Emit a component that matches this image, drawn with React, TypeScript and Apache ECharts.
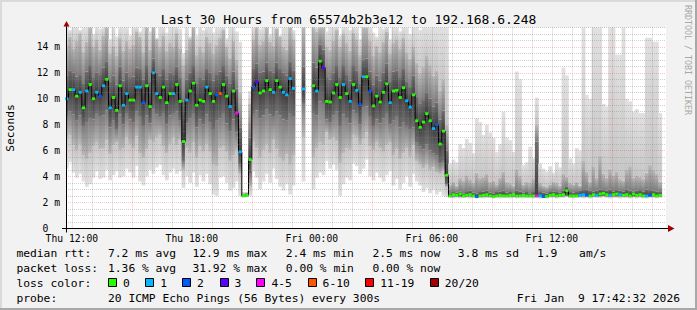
import React, { useEffect, useRef } from "react";
import * as echarts from "echarts";

const FONT = '"DejaVu Sans Mono", "Liberation Mono", monospace';

// x axis: hours counted from Thu 00:00
const START_HOUR = 11 + 42 / 60 + 32 / 3600; // Thu 11:42:32
const END_HOUR = START_HOUR + 30; // Fri 17:42:32
const FIRST_POINT_HOUR = 11.75;
const STEP_HOURS = 1 / 6; // one value every 10 minutes

const tickHours = [12, 18, 24, 30, 36];
const tickLabels = ["Thu 12:00", "Thu 18:00", "Fri 00:00", "Fri 06:00", "Fri 12:00"];

// median round trip time (ms)
const medianMs = [
  10.0, 10.7, 10.7, 10.2, 10.5, 9.3, 10.6, 11.1, 10.0, 10.5,
  10.2, 11.0, 11.5, 9.3, 10.1, 9.1, 11.0, 9.5, 10.4, 9.9,
  9.9, 10.9, 10.9, 9.7, 11.0, 9.4, 12.0, 10.4, 10.1, 10.9,
  9.7, 10.4, 10.4, 11.1, 9.8, 6.7, 9.9, 10.6, 11.2, 9.5,
  9.9, 9.8, 10.9, 10.4, 9.8, 10.3, 10.4, 11.1, 10.2, 9.4,
  10.6, 8.9, 5.9, 2.5, 2.55, 5.3, 10.9, 11.3, 10.45, 10.6,
  11.4, 10.7, 10.5, 11.4, 10.9, 10.5, 10.3, 11.55, 10.8, null,
  null, 10.75, null, null, 11.0, 10.6, 12.9, 12.4, 9.8, 9.75,
  10.45, 11.1, 10.1, 11.1, 10.4, 9.8, 11.1, 10.65, 9.55, 11.7,
  11.7, 10.6, 9.45, 10.2, 9.75, 10.5, 11.15, 9.7, 10.6, 10.65,
  10.1, 10.85, 9.85, 9.35, 10.3, 8.3, 7.8, 8.2, 8.85, 8.3,
  7.7, 8.0, 6.5, 7.5, 4.1, 2.5, 2.6, 2.55, 2.65, 2.5,
  2.55, 2.6, 2.5, 2.45, 2.5, 2.55, 2.6, 2.5, 2.45, 2.5,
  2.55, 2.5, 2.5, 2.55, 2.6, 2.5, 2.5, 2.55, 2.5, 2.5,
  2.5, 2.5, 2.5, 2.45, 2.45, 2.55, 2.6, 2.5, 2.55, 2.6,
  2.9, 2.5, 2.5, 2.5, 2.55, 2.6, 2.55, 2.5, 2.6, 2.55,
  2.65, 2.7, 2.6, 2.55, 2.6, 2.65, 2.6, 2.55, 2.6, 2.5,
  2.65, 2.55, 2.6, 2.5, 2.5, 2.55, 2.6, 2.5, 2.55,
];

// lost pings out of 20
const lossCount = [
  1, 0, 1, 0, 1, 0, 1, 0, 0, 1,
  2, 1, 0, 1, 0, 0, 0, 1, 1, 0,
  0, 1, 1, 2, 0, 0, 1, 1, 0, 0,
  0, 0, 1, 0, 0, 0, 1, 0, 0, 0,
  0, 0, 1, 0, 0, 2, 7, 0, 0, 1,
  0, 4, 1, 0, 0, 0, 2, 3, 0, 0,
  0, 0, 1, 0, 0, 1, 1, 1, 1, null,
  null, 1, null, null, 0, 1, 0, 3, 0, 0,
  0, 0, 0, 1, 0, 1, 0, 1, 2, 1,
  0, 2, 0, 0, 0, 0, 0, 1, 0, 0,
  0, 0, 1, 1, 0, 0, 0, 0, 0, 0,
  1, 2, 0, 0, 0, 0, 0, 0, 0, 0,
  0, 0, 0, 2, 0, 0, 0, 0, 0, 0,
  0, 0, 0, 0, 0, 0, 0, 0, 0, 0,
  0, 4, 1, 2, 0, 0, 0, 0, 0, 0,
  0, 0, 0, 0, 1, 1, 2, 0, 0, 1,
  0, 0, 0, 1, 0, 0, 1, 0, 0, 0,
  0, 0, 0, 0, 1, 2, 0, 0, 0,
];

// smoke: fastest ping
const pingMin = [
  4.6, 5.1, 4.3, 3.9, 4.2, 3.6, 3.2, 3.4, 3.9, 4.4,
  3.8, 3.9, 4.5, 3.7, 4.1, 4.4, 3.9, 4.0, 4.6, 4.3,
  3.9, 4.8, 3.6, 3.3, 4.0, 4.5, 4.2, 4.7, 4.9, 4.1,
  3.7, 4.3, 4.6, 4.2, 4.4, 3.1, 4.0, 3.5, 4.3, 3.2,
  4.1, 3.6, 4.2, 3.4, 2.6, 2.5, 3.9, 4.0, 3.5, 2.9,
  3.1, 3.6, 2.5, 2.4, 2.4, 2.5, 4.4, 3.9, 3.0, 3.6,
  4.2, 3.5, 4.6, 3.8, 3.2, 2.9, 3.4, 2.6, 3.3, null,
  null, 3.6, null, null, 3.0, 3.9, 4.3, 4.1, 5.2, 4.6,
  4.9, 4.5, 2.5, 3.4, 3.9, 3.7, 5.0, 4.8, 4.2, 4.6,
  5.3, 4.0, 3.7, 4.3, 3.9, 3.6, 4.1, 4.4, 3.3, 3.8,
  3.0, 3.5, 4.0, 3.2, 4.2, 3.6, 3.3, 2.8, 3.1, 2.7,
  3.0, 2.6, 2.8, 2.5, 2.4, 2.35, 2.3, 2.35, 2.3, 2.35,
  2.35, 2.3, 2.35, 2.3, 2.35, 2.3, 2.35, 2.35, 2.3, 2.35,
  2.3, 2.35, 2.35, 2.3, 2.35, 2.3, 2.35, 2.3, 2.35, 2.35,
  2.3, 2.35, 2.3, 2.3, 2.3, 2.35, 2.35, 2.3, 2.35, 2.35,
  2.4, 2.35, 2.3, 2.35, 2.35, 2.3, 2.35, 2.3, 2.35, 2.35,
  2.35, 2.4, 2.35, 2.3, 2.35, 2.35, 2.3, 2.35, 2.35, 2.3,
  2.35, 2.3, 2.35, 2.3, 2.3, 2.35, 2.35, 2.3, 2.35,
];

// smoke: lower edge of the middle band
const pingLow = [
  6.9, 7.2, 6.4, 6.0, 6.5, 5.6, 5.3, 5.8, 6.3, 6.6,
  6.1, 6.2, 6.8, 5.7, 6.4, 6.6, 6.0, 6.2, 7.0, 6.5,
  6.2, 7.1, 5.8, 5.4, 6.1, 6.8, 6.6, 7.0, 7.2, 6.3,
  5.8, 6.5, 7.0, 6.4, 6.8, 4.5, 6.2, 5.8, 6.6, 5.4,
  6.3, 5.9, 6.5, 5.9, 4.9, 4.8, 6.2, 6.3, 5.9, 5.2,
  5.6, 6.0, 4.2, 2.45, 2.45, 3.2, 6.6, 6.2, 5.4, 6.0,
  6.5, 5.8, 6.8, 6.1, 5.5, 5.2, 5.7, 4.9, 5.6, null,
  null, 7.0, null, null, 5.5, 6.2, 6.6, 6.4, 7.4, 6.8,
  7.0, 6.7, 5.0, 5.8, 6.2, 6.0, 7.2, 7.0, 6.4, 6.9,
  7.4, 6.3, 6.0, 6.6, 6.2, 5.9, 6.4, 6.6, 5.6, 6.1,
  5.3, 5.8, 6.2, 5.5, 6.4, 5.2, 4.9, 4.6, 4.9, 4.5,
  4.7, 4.3, 4.2, 4.4, 3.2, 2.4, 2.4, 2.45, 2.4, 2.4,
  2.4, 2.45, 2.4, 2.4, 2.4, 2.45, 2.4, 2.4, 2.4, 2.4,
  2.45, 2.4, 2.4, 2.45, 2.4, 2.4, 2.4, 2.45, 2.4, 2.4,
  2.4, 2.4, 2.4, 2.35, 2.35, 2.45, 2.45, 2.4, 2.45, 2.45,
  2.5, 2.4, 2.4, 2.4, 2.45, 2.45, 2.45, 2.4, 2.45, 2.45,
  2.45, 2.5, 2.45, 2.4, 2.45, 2.45, 2.45, 2.45, 2.45, 2.4,
  2.45, 2.4, 2.45, 2.4, 2.4, 2.45, 2.45, 2.4, 2.45,
];

// smoke: lower edge of the dense core
const pingCoreLow = [
  8.6, 9.0, 8.8, 8.3, 8.7, 7.9, 8.2, 8.5, 8.4, 8.9,
  8.6, 8.7, 9.1, 7.8, 8.3, 7.6, 8.8, 8.0, 8.9, 8.4,
  8.2, 9.0, 8.6, 7.9, 8.7, 8.1, 9.2, 8.8, 8.6, 8.9,
  8.0, 8.7, 8.9, 9.0, 8.3, 5.2, 8.1, 8.5, 8.9, 7.8,
  8.4, 8.0, 8.8, 8.2, 7.6, 8.3, 8.5, 8.9, 8.1, 7.5,
  8.4, 7.4, 4.9, 2.45, 2.5, 4.2, 8.9, 9.1, 8.5, 8.7,
  9.2, 8.8, 8.6, 9.0, 8.7, 8.4, 8.3, 8.9, 8.6, null,
  null, 9.6, null, null, 8.9, 8.7, 9.8, 9.6, 8.4, 8.2,
  8.7, 9.0, 7.9, 8.8, 8.5, 8.1, 9.1, 8.9, 8.0, 9.3,
  9.4, 8.6, 7.9, 8.4, 8.1, 8.5, 8.9, 8.0, 8.3, 8.6,
  7.8, 8.2, 7.9, 7.6, 7.8, 6.6, 6.3, 6.1, 6.5, 6.0,
  5.8, 5.6, 5.0, 5.2, 3.4, 2.45, 2.45, 2.45, 2.45, 2.45,
  2.45, 2.45, 2.45, 2.42, 2.45, 2.45, 2.45, 2.45, 2.42, 2.45,
  2.45, 2.45, 2.45, 2.45, 2.45, 2.45, 2.45, 2.45, 2.45, 2.45,
  2.45, 2.45, 2.45, 2.42, 2.42, 2.45, 2.45, 2.45, 2.45, 2.45,
  2.5, 2.45, 2.45, 2.45, 2.45, 2.45, 2.45, 2.45, 2.45, 2.45,
  2.45, 2.5, 2.45, 2.45, 2.45, 2.45, 2.45, 2.45, 2.45, 2.45,
  2.45, 2.45, 2.45, 2.45, 2.45, 2.45, 2.45, 2.45, 2.45,
];

// smoke: upper edge of the dense core
const pingCoreHigh = [
  11.8, 12.2, 12.0, 11.7, 11.9, 11.2, 12.1, 12.6, 11.6, 12.0,
  11.9, 12.4, 12.9, 11.3, 11.8, 11.1, 12.5, 11.4, 12.0, 11.6,
  11.7, 12.4, 12.3, 11.5, 12.6, 11.3, 13.1, 12.0, 11.8, 12.3,
  11.5, 12.0, 11.9, 12.5, 11.6, 9.8, 11.5, 12.0, 12.6, 11.2,
  11.6, 11.5, 12.3, 12.0, 11.4, 11.9, 12.1, 12.6, 11.8, 11.2,
  12.1, 10.8, 7.8, 2.6, 2.65, 7.0, 12.3, 12.7, 12.0, 12.1,
  12.8, 12.2, 12.0, 12.8, 12.3, 12.0, 11.8, 12.9, 12.2, null,
  null, 12.5, null, null, 12.8, 12.4, 14.2, 13.8, 11.6, 11.5,
  12.0, 12.6, 11.6, 12.6, 11.9, 11.4, 12.6, 12.2, 11.2, 13.0,
  13.1, 12.1, 11.1, 11.8, 11.4, 12.0, 12.7, 11.3, 12.1, 12.2,
  11.6, 12.3, 11.3, 10.9, 11.8, 10.2, 9.6, 9.9, 10.5, 10.0,
  9.4, 9.7, 8.4, 9.1, 6.0, 2.7, 2.8, 2.75, 2.85, 2.7,
  2.8, 2.9, 2.75, 2.7, 2.8, 2.85, 2.9, 2.75, 2.7, 2.8,
  2.85, 2.9, 2.75, 2.8, 2.7, 2.9, 2.85, 2.75, 2.8, 2.7,
  2.8, 6.7, 2.8, 2.75, 2.7, 2.8, 2.85, 2.8, 2.75, 2.9,
  3.2, 2.8, 2.75, 2.8, 2.9, 2.95, 3.0, 2.9, 2.85, 2.9,
  3.0, 2.95, 2.9, 3.0, 2.85, 2.95, 2.9, 2.85, 3.0, 2.9,
  2.85, 2.9, 2.95, 2.85, 3.0, 2.95, 2.9, 2.85, 2.8,
];

// smoke: upper edge of the middle band
const pingHigh = [
  14.2, 14.8, 13.9, 14.5, 15.0, 13.6, 14.4, 15.6, 14.0, 14.6,
  13.8, 14.9, 15.6, 13.5, 14.1, 13.3, 14.7, 13.7, 14.5, 13.9,
  14.2, 15.2, 14.8, 13.6, 15.6, 13.8, 15.6, 14.6, 14.0, 14.9,
  13.7, 14.3, 14.0, 15.1, 13.9, 12.6, 13.8, 14.6, 15.6, 13.4,
  14.0, 13.6, 14.8, 14.3, 13.5, 14.2, 14.7, 15.3, 14.0, 13.2,
  14.5, 13.0, 10.5, 2.7, 2.75, 9.6, 14.6, 15.6, 14.2, 14.5,
  15.6, 14.4, 14.1, 15.4, 14.8, 14.0, 13.8, 15.6, 14.6, null,
  null, 15.6, null, null, 15.6, 15.2, 15.6, 15.6, 14.0, 13.8,
  14.5, 15.3, 14.0, 15.0, 14.3, 13.7, 15.1, 14.6, 13.4, 15.6,
  15.6, 14.5, 13.3, 14.1, 13.6, 14.4, 15.2, 13.5, 14.3, 14.6,
  13.9, 14.7, 13.6, 13.1, 14.0, 12.8, 12.0, 12.5, 13.3, 12.6,
  11.8, 12.2, 10.6, 11.5, 8.0, 3.4, 3.6, 3.3, 3.9, 3.7,
  4.1, 3.8, 3.5, 4.3, 3.9, 4.0, 4.2, 3.6, 3.7, 3.4,
  3.9, 4.4, 3.6, 3.5, 3.3, 4.6, 4.1, 3.4, 3.6, 3.5,
  3.8, 8.0, 3.5, 3.3, 3.2, 3.4, 3.6, 3.5, 3.3, 4.2,
  4.0, 3.5, 3.4, 3.6, 3.3, 5.2, 4.4, 3.6, 4.8, 3.9,
  5.6, 4.2, 3.9, 4.6, 4.1, 4.4, 3.8, 3.7, 4.5, 4.8,
  3.9, 4.1, 4.0, 3.8, 4.3, 4.9, 4.5, 4.2, 3.6,
];

// smoke: slowest ping
const pingMax = [
  16, 15.3, 16, 16, 15.3, 16, 16, 16, 15.0, 16,
  15.4, 16, 16, 14.6, 16, 14.8, 16, 15.5, 16, 14.9,
  16, 16, 15.2, 16, 16, 15.2, 16, 14.7, 16, 16,
  15.1, 16, 16, 16, 15.4, 13.5, 16, 14.8, 16, 14.9,
  16, 15.3, 16, 16, 15.1, 16, 16, 16, 14.7, 16,
  16, 15.2, 14.4, 2.8, 2.8, 10.6, 16, 16, 15.4, 16,
  16, 15.0, 16, 16, 14.9, 16, 16, 16, 15.3, null,
  null, 16, null, null, 16, 16, 16, 16, 15.2, 16,
  16, 16, 14.9, 16, 16, 15.3, 16, 16, 14.6, 16,
  16, 16, 15.1, 14.8, 16, 15.4, 16, 14.6, 16, 16,
  15.2, 16, 16, 15.0, 16, 16, 15.3, 16, 16, 16,
  16, 15.5, 16, 16, 16, 5.0, 5.3, 5.1, 6.5, 6.2,
  6.9, 6.6, 5.8, 8.5, 8.2, 7.2, 8.0, 7.4, 7.0, 5.9,
  6.5, 9.0, 7.0, 6.8, 5.9, 12.1, 11.5, 4.9, 5.1, 6.3,
  5.4, 10.1, 5.0, 4.6, 4.4, 4.8, 4.3, 5.1, 4.7, 12.4,
  11.8, 5.4, 5.0, 6.2, 6.0, 16, 10.3, 10.0, 16, 16,
  16, 9.6, 9.4, 16, 16, 13.4, 13.4, 16, 10.0, 9.8,
  9.0, 9.2, 8.9, 8.9, 14.7, 14.7, 14.4, 14.4, 8.9,
];

const lossBinLabels = ["0", "1", "2", "3", "4-5", "6-10", "11-19", "20/20"];
const lossBinMax = [0, 1, 2, 3, 5, 10, 19, 20];
const lossBinColors = ["#26ff00", "#00b8ff", "#0059ff", "#5e00ff", "#ff00fe", "#ff5500", "#ff0000", "#a10000"];

const rttStats = ["7.2 ms avg", "12.9 ms max", "2.4 ms min", "2.5 ms now", "3.8 ms sd", "1.9", "am/s"];
const lossStats = ["1.36 % avg", "31.92 % max", "0.00 % min", "0.00 % now"];
const probeText = "20 ICMP Echo Pings (56 Bytes) every 300s";
const stampText = "Fri Jan \u00a09 17:42:32 2026";
const titleText = "Last 30 Hours from 65574b2b3e12 to 192.168.6.248";

// layout
const W = 697;
const H = 310;
const GRID_LEFT = 66;
const GRID_TOP = 27.5;
const GRID_W = 600;
const GRID_H = 200.8;
const AXIS_Y = GRID_TOP + GRID_H;
const LEGEND_X0 = 16.4;
const LEGEND_ROWS_Y = [253, 268, 283, 298];
const rttStatX = [108, 192.4, 285.8, 372.4, 457.8, 537, 579.1];
const lossStatX = [108, 192.4, 285.8, 372.4];
const swatchX = [108, 145.3, 182, 219.6, 256.4, 307.6, 365.3, 429.8];

const MINOR_GRID = "rgba(130,130,130,0.38)";
const MAJOR_GRID = "rgba(235,0,0,0.22)";

function lossColor(n: number) {
  for (let k = 0; k < lossBinMax.length; k++) if (n <= lossBinMax[k]) return lossBinColors[k];
  return lossBinColors[lossBinColors.length - 1];
}

const pointHours = medianMs.map((_, i) => FIRST_POINT_HOUR + i * STEP_HOURS);

const smokeData: number[][] = [];
const dotData: number[][] = [];
medianMs.forEach((m, i) => {
  if (m == null) return;
  smokeData.push([
    pointHours[i],
    pingMin[i] as number,
    pingLow[i] as number,
    pingCoreLow[i] as number,
    m,
    pingCoreHigh[i] as number,
    pingHigh[i] as number,
    pingMax[i] as number,
  ]);
  dotData.push([pointHours[i], m, lossCount[i] as number]);
});
const lineData = medianMs.map((m, i) => [pointHours[i], m == null ? "-" : m]);

// smoke layers: [from dim, to dim, colour at "from" edge, colour at "to" edge]
const SMOKE_LAYERS: [number, number, string, string][] = [
  [1, 2, "#e0e0e0", "#c6c6c6"],
  [2, 3, "#b9b9b9", "#7c7c7c"],
  [3, 4, "#6e6e6e", "#3e3e3e"],
  [4, 5, "#3e3e3e", "#6e6e6e"],
  [5, 6, "#7c7c7c", "#b9b9b9"],
  [6, 7, "#c6c6c6", "#e0e0e0"],
];

function textEl(text: string, x: number, y: number, size: number, extra: any = {}) {
  return {
    type: "text",
    x,
    y,
    z: 20,
    silent: true,
    ...extra,
    style: {
      text,
      fill: extra.fill || "#000",
      font: `${size}px ${FONT}`,
      fontSize: size,
      fontFamily: FONT,
      align: extra.align || "left",
      textAlign: extra.align || "left",
      verticalAlign: "middle",
      textVerticalAlign: "middle",
    },
  };
}

function buildGraphics() {
  const g: any[] = [];
  // 3D frame
  g.push({ type: "rect", z: 20, silent: true, shape: { x: 0, y: 0, width: W, height: 2 }, style: { fill: "#dadada" } });
  g.push({ type: "rect", z: 20, silent: true, shape: { x: 0, y: 0, width: 2, height: H }, style: { fill: "#dadada" } });
  g.push({ type: "rect", z: 20, silent: true, shape: { x: W - 2, y: 0, width: 2, height: H }, style: { fill: "#a8a8a8" } });
  g.push({ type: "rect", z: 20, silent: true, shape: { x: 0, y: H - 2, width: W, height: 2 }, style: { fill: "#a8a8a8" } });

  g.push(textEl(titleText, W / 2, 19.5, 13, { align: "center" }));
  g.push({ ...textEl("Seconds", 10.5, 128, 11.3, { align: "center" }), rotation: Math.PI / 2 });
  g.push({ ...textEl("RRDTOOL / TOBI OETIKER", 687.5, 5, 8.3, { fill: "#a8a8a8" }), rotation: -Math.PI / 2 });

  // axes with arrows
  const ax = GRID_LEFT + 0.5;
  const ay = Math.round(AXIS_Y) + 0.5;
  g.push({ type: "line", z: 21, silent: true, shape: { x1: ax, y1: ay + 4, x2: ax, y2: GRID_TOP - 2 }, style: { stroke: "#000", lineWidth: 1 } });
  g.push({ type: "polygon", z: 21, silent: true, shape: { points: [[ax - 3, GRID_TOP - 1], [ax + 3, GRID_TOP - 1], [ax, GRID_TOP - 6.5]] }, style: { fill: "#a00000" } });
  const xEnd = GRID_LEFT + GRID_W + 2;
  g.push({ type: "line", z: 21, silent: true, shape: { x1: GRID_LEFT - 4, y1: ay, x2: xEnd, y2: ay }, style: { stroke: "#000", lineWidth: 1 } });
  g.push({ type: "polygon", z: 21, silent: true, shape: { points: [[xEnd, ay - 3.5], [xEnd, ay + 3.5], [xEnd + 6.5, ay]] }, style: { fill: "#a00000" } });

  // legend
  const [r1, r2, r3, r4] = LEGEND_ROWS_Y;
  g.push(textEl("median rtt:", LEGEND_X0, r1, 11.3));
  rttStats.forEach((t, k) => g.push(textEl(t, rttStatX[k], r1, 11.3)));
  g.push(textEl("packet loss:", LEGEND_X0, r2, 11.3));
  lossStats.forEach((t, k) => g.push(textEl(t, lossStatX[k], r2, 11.3)));
  g.push(textEl("loss color:", LEGEND_X0, r3, 11.3));
  lossBinLabels.forEach((t, k) => {
    g.push({ type: "rect", z: 20, silent: true, shape: { x: Math.round(swatchX[k]) + 0.5, y: r3 - 4.5, width: 8, height: 8 }, style: { fill: lossBinColors[k], stroke: "#000", lineWidth: 1 } });
    g.push(textEl(t, swatchX[k] + 15, r3, 11.3));
  });
  g.push(textEl("probe:", LEGEND_X0, r4, 11.3));
  g.push(textEl(probeText, 108, r4, 11.3));
  g.push(textEl(stampText, 680, r4, 11.3, { align: "right" }));
  return g;
}

function near(v: number, t: number) {
  return Math.abs(v - t) < 1e-6;
}

const option: any = {
  animation: false,
  backgroundColor: "#f2f2f2",
  grid: { left: GRID_LEFT, top: GRID_TOP, width: GRID_W, height: GRID_H, show: true, backgroundColor: "#ffffff", borderWidth: 0 },
  xAxis: {
    type: "value",
    min: START_HOUR,
    max: END_HOUR,
    minInterval: 1,
    maxInterval: 1,
    z: 5,
    axisLine: { show: false },
    axisTick: { show: false },
    axisLabel: {
      margin: 5,
      color: "#000",
      fontFamily: FONT,
      fontSize: 9.7,
      formatter: (v: number) => {
        const k = tickHours.findIndex((h) => near(v, h));
        return k >= 0 ? tickLabels[k] : "";
      },
    },
    splitLine: {
      show: true,
      showMaxLine: false,
      lineStyle: {
        width: 1,
        type: [1, 1],
        color: [MINOR_GRID, MINOR_GRID, MINOR_GRID, MINOR_GRID, MAJOR_GRID, MINOR_GRID],
      },
    },
  },
  yAxis: {
    type: "value",
    min: 0,
    max: 15.5,
    interval: 0.5,
    z: 5,
    axisLine: { show: false },
    axisTick: { show: false },
    axisLabel: {
      margin: 6,
      color: "#000",
      fontFamily: FONT,
      fontSize: 9.7,
      formatter: (v: number) => {
        if (!near(v / 2, Math.round(v / 2))) return "";
        return v === 0 ? "0\u00a0\u00a0" : `${Math.round(v)} m`;
      },
    },
    splitLine: {
      show: true,
      lineStyle: {
        width: 1,
        type: [1, 1],
        color: [MAJOR_GRID, MINOR_GRID, MINOR_GRID, MINOR_GRID],
      },
    },
  },
  series: [
    {
      type: "custom",
      name: "smoke",
      silent: true,
      z: 1,
      data: smokeData,
      encode: { x: 0, y: 1 },
      renderItem: (params: any, api: any) => {
        const h = api.value(0);
        const w = api.size([STEP_HOURS, 0])[0];
        const cs = params.coordSys;
        const children: any[] = [];
        for (const [a, b, cFrom, cTo] of SMOKE_LAYERS) {
          const lo = Math.min(api.value(a), api.value(b));
          const hi = Math.max(api.value(a), api.value(b));
          const pLo = api.coord([h, lo]);
          const pHi = api.coord([h, hi]);
          const r = echarts.graphic.clipRectByRect(
            { x: pLo[0] - w / 2 - 0.25, y: pHi[1], width: w + 0.5, height: Math.max(pLo[1] - pHi[1], 0.01) },
            { x: cs.x, y: cs.y, width: cs.width, height: cs.height }
          );
          if (!r || r.height <= 0) continue;
          // gradient runs top (y=0) to bottom (y=1); "from" dim is the lower value
          const topColor = a < b ? cTo : cFrom;
          const bottomColor = a < b ? cFrom : cTo;
          children.push({
            type: "rect",
            shape: r,
            style: {
              fill: {
                type: "linear",
                x: 0,
                y: 0,
                x2: 0,
                y2: 1,
                colorStops: [
                  { offset: 0, color: topColor },
                  { offset: 1, color: bottomColor },
                ],
              },
            },
          });
        }
        return { type: "group", children };
      },
    },
    {
      type: "line",
      name: "median",
      silent: true,
      z: 3,
      step: "middle",
      showSymbol: false,
      connectNulls: false,
      data: lineData,
      lineStyle: { color: "#000", width: 1 },
    },
    {
      type: "custom",
      name: "loss",
      silent: true,
      z: 4,
      data: dotData,
      encode: { x: 0, y: 1 },
      renderItem: (params: any, api: any) => {
        const p = api.coord([api.value(0), api.value(1)]);
        const w = api.size([STEP_HOURS, 0])[0];
        return {
          type: "rect",
          shape: { x: p[0] - w / 2, y: p[1] - 1.4, width: w, height: 2.8 },
          style: { fill: lossColor(api.value(2)) },
        };
      },
    },
  ],
  graphic: buildGraphics(),
};

export default function App() {
  const ref = useRef<HTMLDivElement>(null);
  useEffect(() => {
    if (!ref.current) return;
    const chart = echarts.init(ref.current, null, { renderer: "svg" });
    chart.setOption(option);
    return () => chart.dispose();
  }, []);
  return <div ref={ref} style={{ position: "fixed", left: 0, top: 0, width: W, height: H }} />;
}
